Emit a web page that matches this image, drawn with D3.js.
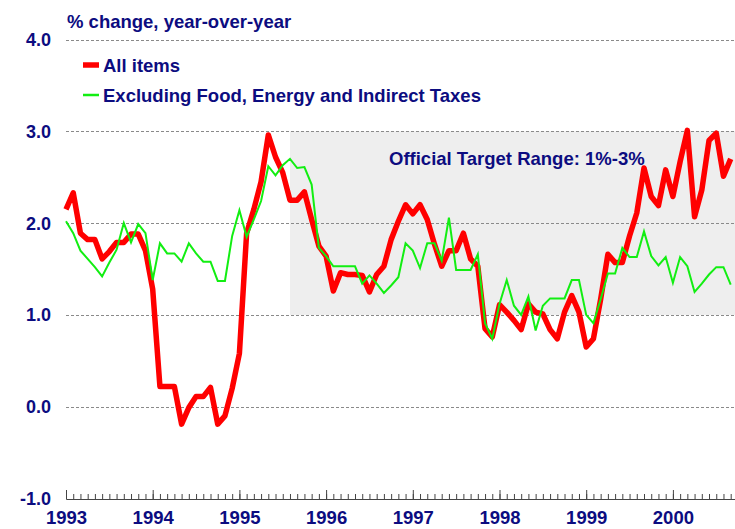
<!DOCTYPE html>
<html>
<head>
<meta charset="utf-8">
<script src="https://cdn.jsdelivr.net/npm/d3@7"></script>
<style>
  body { margin: 0; background: #fff; }
  text { font-family: "Liberation Sans", Arial, sans-serif; font-weight: bold; fill: #0c0c80; }
</style>
</head>
<body>
<div id="chart"></div>
<script>
(function(){

    // monthly data, Jan 1993 .. Sep 2000
    var startYear = 1993;
    var allItems = [
        2.15, 2.33, 1.89, 1.82, 1.82, 1.61, 1.69, 1.79, 1.79, 1.88, 1.88, 1.70,
        1.28, 0.22, 0.22, 0.22, -0.19, -0.01, 0.11, 0.11, 0.21, -0.19, -0.10, 0.20,
        0.58, 1.89, 2.15, 2.45, 2.96, 2.72, 2.55, 2.25, 2.25, 2.34, 2.04, 1.75,
        1.64, 1.26, 1.46, 1.44, 1.44, 1.43, 1.25, 1.44, 1.53, 1.82, 2.02, 2.20,
        2.10, 2.20, 2.04, 1.77, 1.53, 1.70, 1.70, 1.89, 1.61, 1.53, 0.85, 0.76,
        1.11, 1.03, 0.94, 0.84, 1.12, 1.03, 1.01, 0.84, 0.74, 1.03, 1.21, 1.03,
        0.65, 0.74, 1.17, 1.66, 1.57, 1.57, 1.86, 2.11, 2.60, 2.29, 2.19, 2.58,
        2.29, 2.67, 3.01, 2.07, 2.36, 2.90, 2.98, 2.51, 2.70
    ];
    var core = [
        2.02, 1.89, 1.70, 1.61, 1.52, 1.42, 1.57, 1.71, 2.00, 1.79, 1.99, 1.89,
        1.38, 1.78, 1.67, 1.67, 1.58, 1.78, 1.67, 1.58, 1.58, 1.37, 1.37, 1.86,
        2.14, 1.85, 2.04, 2.24, 2.62, 2.52, 2.63, 2.70, 2.60, 2.61, 2.42, 1.73,
        1.64, 1.53, 1.53, 1.53, 1.53, 1.34, 1.43, 1.34, 1.24, 1.32, 1.41, 1.78,
        1.70, 1.51, 1.78, 1.78, 1.59, 2.06, 1.49, 1.49, 1.49, 1.66, 0.91, 0.74,
        1.12, 1.38, 1.10, 1.00, 1.20, 0.83, 1.10, 1.18, 1.18, 1.18, 1.38, 1.38,
        1.00, 0.91, 1.17, 1.45, 1.45, 1.73, 1.63, 1.63, 1.91, 1.64, 1.54, 1.63,
        1.35, 1.63, 1.53, 1.25, 1.34, 1.44, 1.52, 1.52, 1.33
    ];
    var yTicks = [-1, 0, 1, 2, 3, 4];
    var yearTicks = [1993, 1994, 1995, 1996, 1997, 1998, 1999, 2000];
    var targetRange = [1, 3];
    var targetStart = 1995 + 7/12;   // Aug 1995
    var legendLabels = ["All items", "Excluding Food, Energy and Indirect Taxes"];
    var title = "% change, year-over-year";
    var targetLabel = "Official Target Range: 1%-3%";

    var width = 735, height = 529;
    var left = 66, right = 735;

    var svg = d3.select("#chart").append("svg")
        .attr("width", width)
        .attr("height", height);

    var x = d3.scaleLinear().domain([1993, 2001]).range([left, left + 8 * 86.7]);
    var y = d3.scaleLinear().domain([-1, 4]).range([498.5, 39.5]);

    function toPoints(arr){
        return arr.map(function(v, i){ return {t: startYear + i / 12, v: v}; });
    }

    // target range band
    svg.append("rect")
        .attr("x", x(targetStart))
        .attr("y", y(targetRange[1]))
        .attr("width", right - x(targetStart))
        .attr("height", y(targetRange[0]) - y(targetRange[1]))
        .style("fill", "#eeeeee");

    // gridlines
    svg.append("g").selectAll("line")
        .data(yTicks.filter(function(d){ return d > -1; }))
        .enter().append("line")
        .attr("x1", left)
        .attr("x2", right)
        .attr("y1", function(d){ return Math.round(y(d)) + 0.5; })
        .attr("y2", function(d){ return Math.round(y(d)) + 0.5; })
        .style("stroke", "#8a8a8a")
        .style("stroke-width", 1)
        .style("stroke-dasharray", "3,2");

    // y labels
    svg.append("g").selectAll("text")
        .data(yTicks)
        .enter().append("text")
        .attr("x", 51)
        .attr("y", function(d){ return y(d); })
        .attr("dy", "0.36em")
        .attr("text-anchor", "end")
        .style("font-size", "18px")
        .text(function(d){ return d.toFixed(1); });

    // x axis: monthly minor ticks + yearly major ticks
    var months = d3.range(0, 8 * 12 + 1).map(function(i){ return 1993 + i / 12; });
    var axisY = 499;
    svg.append("g")
        .attr("transform", "translate(0," + axisY + ")")
        .call(d3.axisBottom(x).tickValues(months).tickSizeInner(-5).tickSizeOuter(0).tickFormat(""));
    var major = svg.append("g")
        .attr("transform", "translate(0," + axisY + ")")
        .call(d3.axisBottom(x).tickValues(yearTicks).tickSizeInner(-9).tickSizeOuter(0)
              .tickPadding(12).tickFormat(d3.format("d")));
    svg.selectAll(".domain, .tick line").style("stroke", "#444").style("stroke-width", 1);
    major.selectAll("text")
        .style("font-size", "18.5px")
        .style("font-family", "'Liberation Sans', Arial, sans-serif")
        .attr("fill", "#0c0c80");

    // series
    var line = d3.line()
        .x(function(d){ return x(d.t); })
        .y(function(d){ return y(d.v); });

    svg.append("path")
        .datum(toPoints(allItems))
        .attr("d", line)
        .style("fill", "none")
        .style("stroke", "#ff0000")
        .style("stroke-width", 5.5)
        .style("stroke-linejoin", "round");

    svg.append("path")
        .datum(toPoints(core))
        .attr("d", line)
        .style("fill", "none")
        .style("stroke", "#12ee12")
        .style("stroke-width", 2);

    // titles
    svg.append("text")
        .attr("x", 67).attr("y", 28)
        .style("font-size", "18.5px")
        .text(title);

    svg.append("text")
        .attr("x", 389).attr("y", 165)
        .style("font-size", "18.5px")
        .text(targetLabel);

    // legend
    var legend = svg.append("g");
    var lg = legend.selectAll("g")
        .data([{c: "#ff0000", w: 5.5}, {c: "#12ee12", w: 2.5}])
        .enter().append("g")
        .attr("transform", function(d, i){ return "translate(83," + (65 + i * 30) + ")"; });
    lg.append("line")
        .attr("x1", 0).attr("x2", 16)
        .style("stroke", function(d){ return d.c; })
        .style("stroke-width", function(d){ return d.w; });
    lg.append("text")
        .attr("x", 20)
        .attr("dy", "0.36em")
        .style("font-size", "18.5px")
        .text(function(d, i){ return legendLabels[i]; });

})();
</script>
</body>
</html>
